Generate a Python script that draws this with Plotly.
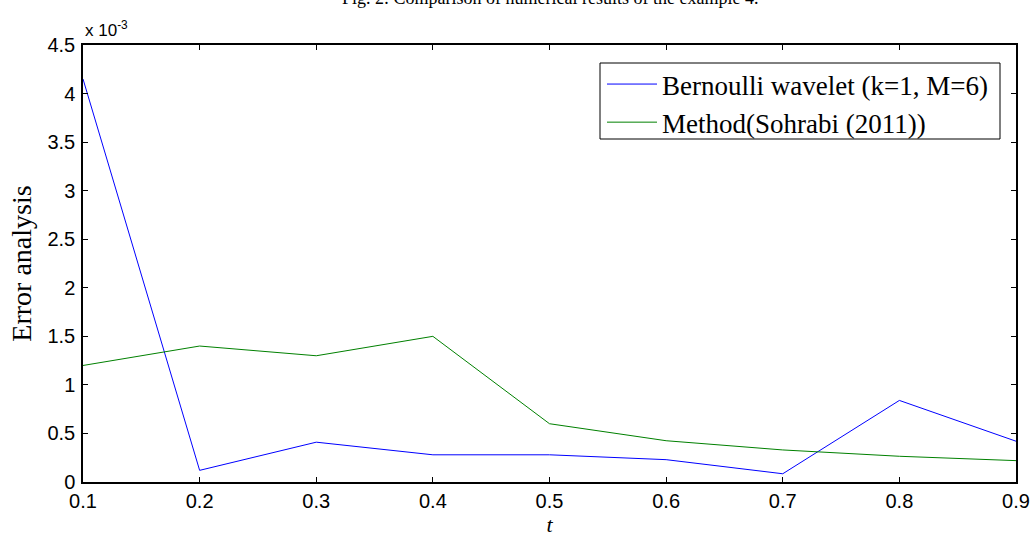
import plotly.graph_objects as go

# t values and errors (in units of 10^-3)
t = [0.1, 0.2, 0.3, 0.4, 0.5, 0.6, 0.7, 0.8, 0.9]
bernoulli = [4.15, 0.12, 0.41, 0.28, 0.28, 0.23, 0.085, 0.84, 0.42]
sohrabi = [1.2, 1.4, 1.3, 1.5, 0.6, 0.425, 0.33, 0.265, 0.22]

x_ticks = [0.1, 0.2, 0.3, 0.4, 0.5, 0.6, 0.7, 0.8, 0.9]
y_ticks = [0, 0.5, 1, 1.5, 2, 2.5, 3, 3.5, 4, 4.5]
y_ticktext = ["0", "0.5", "1", "1.5", "2", "2.5", "3", "3.5", "4", "4.5"]

fig = go.Figure()
fig.add_trace(go.Scatter(x=t, y=bernoulli, mode="lines",
                         name="Bernoulli wavelet (k=1, M=6)",
                         line=dict(color="#0000ff", width=1)))
fig.add_trace(go.Scatter(x=t, y=sohrabi, mode="lines",
                         name="Method(Sohrabi (2011))",
                         line=dict(color="#008000", width=1)))

axis_common = dict(showgrid=False, zeroline=False, showline=True,
                   linecolor="black", linewidth=1.5, mirror="ticks",
                   ticks="inside", ticklen=5, tickcolor="black",
                   automargin=False,
                   tickfont=dict(family="Arial", size=20, color="black"))

fig.update_xaxes(range=[0.1, 0.9], tickvals=x_ticks,
                 ticktext=[str(v) for v in x_ticks],
                 title=dict(text="<i>t</i>", standoff=9,
                            font=dict(family="Liberation Serif", size=22, color="black")),
                 **axis_common)
fig.update_yaxes(range=[0, 4.5], tickvals=y_ticks, ticktext=y_ticktext,
                 ticklabelstandoff=2,
                 title=dict(text="Error analysis", standoff=8,
                            font=dict(family="Liberation Serif", size=28, color="black")),
                 **axis_common)

fig.add_annotation(text="x 10<sup>-3</sup>", xref="paper", yref="paper",
                   x=0, y=1.0, xanchor="left", yanchor="bottom", showarrow=False,
                   font=dict(family="Arial", size=17, color="black"), yshift=3)
fig.add_annotation(text="Fig. 2: Comparison of numerical results of the example 4.",
                   xref="paper", yref="paper", x=0.5, y=1.0, xanchor="center",
                   yanchor="middle", yshift=47, showarrow=False,
                   font=dict(family="Liberation Serif", size=18, color="black"))

# legend frame (decoration)
fig.add_shape(type="rect", xref="paper", yref="paper",
              x0=(600 - 83) / 933, x1=(1000 - 83) / 933,
              y0=(482 - 139) / 437, y1=(482 - 63) / 437,
              line=dict(color="black", width=1), fillcolor="white", layer="above")

fig.update_layout(
    width=1032, height=537,
    margin=dict(l=83, r=16, t=45, b=55),
    paper_bgcolor="white", plot_bgcolor="white",
    legend=dict(x=(602 - 83) / 933, y=(482 - 60) / 437, xanchor="left", yanchor="top",
                xref="paper", yref="paper",
                borderwidth=0, bgcolor="rgba(0,0,0,0)",
                font=dict(family="Liberation Serif", size=27, color="black"),
                tracegroupgap=0, itemwidth=50),
    showlegend=True,
)

fig.write_html("out.html", config={"displayModeBar": False},
               post_script="document.body.style.margin='0';")
